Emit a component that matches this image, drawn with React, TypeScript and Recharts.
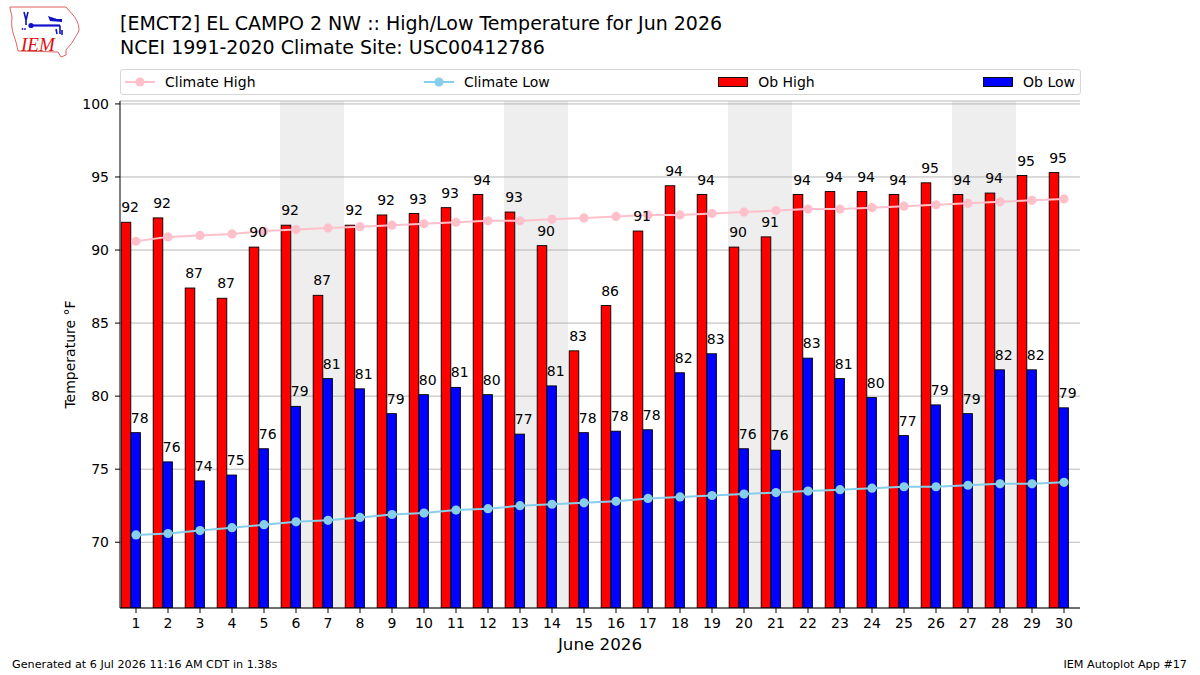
import React from "react";
import {
  ComposedChart,
  Bar,
  Line,
  XAxis,
  YAxis,
  CartesianGrid,
  ReferenceArea,
  LabelList,
} from "recharts";

const DAYS = [
  "1", "2", "3", "4", "5", "6", "7", "8", "9", "10",
  "11", "12", "13", "14", "15", "16", "17", "18", "19", "20",
  "21", "22", "23", "24", "25", "26", "27", "28", "29", "30",
];
const OB_HIGH = [
  91.9, 92.2, 87.4, 86.7, 90.2, 91.7, 86.9, 91.7, 92.4, 92.5,
  92.9, 93.8, 92.6, 90.3, 83.1, 86.2, 91.3, 94.4, 93.8, 90.2,
  90.9, 93.8, 94.0, 94.0, 93.8, 94.6, 93.8, 93.9, 95.1, 95.3,
];
const OB_LOW = [
  77.5, 75.5, 74.2, 74.6, 76.4, 79.3, 81.2, 80.5, 78.8, 80.1,
  80.6, 80.1, 77.4, 80.7, 77.5, 77.6, 77.7, 81.6, 82.9, 76.4,
  76.3, 82.6, 81.2, 79.9, 77.3, 79.4, 78.8, 81.8, 81.8, 79.2,
];
const CLIMATE_HIGH = [
  90.6, 90.9, 91.0, 91.1, 91.3, 91.4, 91.5, 91.6, 91.7, 91.8,
  91.9, 92.0, 92.0, 92.1, 92.2, 92.3, 92.4, 92.4, 92.5, 92.6,
  92.7, 92.8, 92.8, 92.9, 93.0, 93.1, 93.2, 93.3, 93.4, 93.5,
];
const CLIMATE_LOW = [
  70.5, 70.6, 70.8, 71.0, 71.2, 71.4, 71.5, 71.7, 71.9, 72.0,
  72.2, 72.3, 72.5, 72.6, 72.7, 72.8, 73.0, 73.1, 73.2, 73.3,
  73.4, 73.5, 73.6, 73.7, 73.8, 73.8, 73.9, 74.0, 74.0, 74.1,
];
// Saturday/Sunday pairs
const WEEKENDS: [string, string][] = [
  ["6", "7"],
  ["13", "14"],
  ["20", "21"],
  ["27", "28"],
];
const Y_TICKS = [70, 75, 80, 85, 90, 95, 100];

const LEGEND = [
  { label: "Climate High", color: "pink", kind: "line" },
  { label: "Climate Low", color: "skyblue", kind: "line" },
  { label: "Ob High", color: "#ff0000", kind: "bar" },
  { label: "Ob Low", color: "#0000ff", kind: "bar" },
];

const FONT = '"DejaVu Sans", Verdana, sans-serif';
const DOMAIN: [number, number] = [65.5, 100.2];

const rows = DAYS.map((day, i) => ({
  day,
  obHigh: OB_HIGH[i],
  obLow: OB_LOW[i],
  climHigh: CLIMATE_HIGH[i],
  climLow: CLIMATE_LOW[i],
}));

// the pair is shifted half a bar left so the low bar sits on the tick
function PairBar(props: any) {
  const { x, y, width, height, fill } = props;
  if (height == null || height <= 0) return null;
  return (
    <rect
      x={x - width / 2}
      y={y}
      width={width}
      height={height}
      fill={fill}
      stroke="#000"
      strokeWidth={0.9}
    />
  );
}

function BarValue(props: any) {
  const { x, y, width, value } = props;
  return (
    <text x={x - width / 2} y={y - 10} fontSize={14} fontFamily={FONT} fill="#000">
      {Math.round(value)}
    </text>
  );
}

function XLabel(props: any) {
  const vb = props.viewBox;
  return (
    <text
      x={vb.x + vb.width / 2}
      y={vb.y + 42}
      textAnchor="middle"
      fontSize={16.7}
      fontFamily={FONT}
      fill="#000"
    >
      June 2026
    </text>
  );
}

function YLabel(props: any) {
  const vb = props.viewBox;
  const cx = vb.x + 15;
  const cy = vb.y + vb.height / 2;
  return (
    <text
      x={cx}
      y={cy}
      transform={`rotate(-90 ${cx} ${cy})`}
      textAnchor="middle"
      fontSize={14}
      fontFamily={FONT}
      fill="#000"
    >
      Temperature °F
    </text>
  );
}

function Logo() {
  return (
    <g>
      <path
        d="M10,7 L66,7 C68,10 71,12 73,15 C76,18 79,24 79,30 C78,34 75,37 73,41 C71,45 68,47 66,50 L66,55 L61,57 L58,52 L18,51 C17,46 16,41 14,36 C12,30 11,24 12,18 C12,14 10,11 10,7 Z"
        fill="#fff"
        stroke="#e06060"
        strokeWidth={1}
      />
      <g stroke="#1010c8" strokeWidth={1.6} fill="none">
        <path d="M24,12 L26,20 L28,12 M26,20 L26,25" />
        <path d="M31,25.5 L60,25.5" strokeWidth={2.2} />
        <path d="M60,25.5 L60,34 M56,29 L57,34 M62,30 L62,35" />
      </g>
      <circle cx={31} cy={25.5} r={2.6} fill="#1010c8" />
      <path d="M48,16 L57,19 L62,19 L62,22 L50,21 Z" fill="#1010c8" />
      <circle cx={22.5} cy={29} r={0.9} fill="#1010c8" />
      <circle cx={25} cy={29} r={0.9} fill="#1010c8" />
      <text
        x={21}
        y={51}
        fontSize={19}
        fontStyle="italic"
        fontFamily='"Liberation Serif", "DejaVu Serif", serif'
        fill="#e01010"
      >
        IEM
      </text>
    </g>
  );
}

export default function App() {
  return (
    <div
      style={{
        position: "absolute",
        left: 0,
        top: 0,
        width: 1200,
        height: 675,
        background: "#fff",
        fontFamily: FONT,
      }}
    >
      <ComposedChart
        width={1200}
        height={675}
        data={rows}
        margin={{ top: 101, right: 120, bottom: 17, left: 60 }}
        barGap={0}
        barSize={9.6}
      >
        {WEEKENDS.map(([a, b]) => (
          <ReferenceArea
            key={a}
            x1={a}
            x2={b}
            fill="#eeeeee"
            fillOpacity={1}
            stroke="none"
            zIndex={-200}
          />
        ))}
        <CartesianGrid vertical={false} stroke="#b0b0b0" strokeWidth={0.9} />
        <XAxis
          dataKey="day"
          interval={0}
          height={50}
          tickSize={5}
          tickMargin={5}
          tick={{ fontSize: 14, fill: "#000", fontFamily: FONT }}
          tickLine={{ stroke: "#000" }}
          axisLine={{ stroke: "#000" }}
          label={XLabel}
        />
        <XAxis
          xAxisId="top"
          orientation="top"
          dataKey="day"
          height={0}
          tick={false}
          tickLine={false}
          axisLine={{ stroke: "#000" }}
        />
        <YAxis
          width={60}
          domain={DOMAIN}
          ticks={Y_TICKS}
          allowDataOverflow
          tickSize={5}
          tickMargin={6}
          tick={{ fontSize: 14, fill: "#000", fontFamily: FONT }}
          tickLine={{ stroke: "#000" }}
          axisLine={{ stroke: "#000" }}
          label={YLabel}
        />
        <YAxis
          yAxisId="right"
          orientation="right"
          width={0}
          domain={DOMAIN}
          allowDataOverflow
          tick={false}
          tickLine={false}
          axisLine={{ stroke: "#000" }}
        />
        <Bar
          dataKey="obHigh"
          fill="#ff0000"
          shape={(p: any) => <PairBar {...p} fill="#ff0000" />}
          isAnimationActive={false}
        >
          <LabelList dataKey="obHigh" content={BarValue} />
        </Bar>
        <Bar
          dataKey="obLow"
          fill="#0000ff"
          shape={(p: any) => <PairBar {...p} fill="#0000ff" />}
          isAnimationActive={false}
        >
          <LabelList dataKey="obLow" content={BarValue} />
        </Bar>
        <Line
          dataKey="climHigh"
          type="linear"
          stroke="pink"
          strokeWidth={2}
          dot={{ r: 4.6, fill: "pink", stroke: "none" }}
          activeDot={false}
          isAnimationActive={false}
        />
        <Line
          dataKey="climLow"
          type="linear"
          stroke="skyblue"
          strokeWidth={2}
          dot={{ r: 4.6, fill: "skyblue", stroke: "none" }}
          activeDot={false}
          isAnimationActive={false}
        />
      </ComposedChart>

      <svg
        width={1200}
        height={675}
        style={{ position: "absolute", left: 0, top: 0, pointerEvents: "none" }}
      >
        <Logo />
        <text x={120} y={30} fontSize={19} fontFamily={FONT} fill="#000">
          [EMCT2] EL CAMPO 2 NW :: High/Low Temperature for Jun 2026
        </text>
        <text x={120} y={53.5} fontSize={19} fontFamily={FONT} fill="#000">
          NCEI 1991-2020 Climate Site: USC00412786
        </text>
        <text x={12} y={668} fontSize={11.2} fontFamily={FONT} fill="#000">
          Generated at 6 Jul 2026 11:16 AM CDT in 1.38s
        </text>
        <text x={1187} y={668} fontSize={11.2} fontFamily={FONT} fill="#000" textAnchor="end">
          IEM Autoplot App #17
        </text>
      </svg>

      <div
        style={{
          position: "absolute",
          left: 120,
          top: 69,
          width: 961,
          height: 26,
          boxSizing: "border-box",
          border: "1px solid #d6d6d6",
          borderRadius: 3,
          background: "#fff",
          display: "flex",
          justifyContent: "space-between",
          alignItems: "center",
          padding: "0 5px 0 4px",
          fontSize: 14,
          color: "#000",
        }}
      >
        {LEGEND.map((item) => (
          <div key={item.label} style={{ display: "flex", alignItems: "center" }}>
            <svg width={30} height={12}>
              {item.kind === "line" ? (
                <>
                  <line x1={0} y1={6} x2={30} y2={6} stroke={item.color} strokeWidth={2} />
                  <circle cx={15} cy={6} r={4.6} fill={item.color} />
                </>
              ) : (
                <rect x={0.5} y={1.5} width={29} height={9} fill={item.color} stroke="#000" strokeWidth={0.9} />
              )}
            </svg>
            <span style={{ marginLeft: 10 }}>{item.label}</span>
          </div>
        ))}
      </div>
    </div>
  );
}
